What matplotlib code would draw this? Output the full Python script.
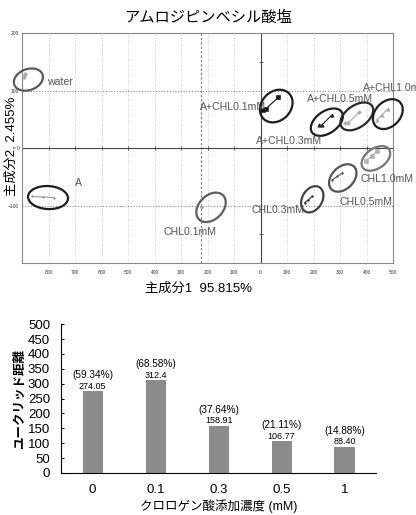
import matplotlib
matplotlib.use("Agg")
import matplotlib.pyplot as plt
from matplotlib.patches import Ellipse
from matplotlib.transforms import Affine2D, ScaledTranslation
import numpy as np

plt.rcParams['font.family'] = ['Liberation Sans', 'Noto Sans CJK JP', 'DejaVu Sans']

# ---------------- PCA data ----------------
title = "アムロジピンベシル酸塩"
pc1_label = "主成分1  95.815%"
pc2_label = "主成分2, 2.455%"

groups = ["water", "A", "A+CHL0.1mM", "A+CHL0.3mM", "A+CHL0.5mM", "A+CHL1.0mM",
          "CHL0.1mM", "CHL0.3mM", "CHL0.5mM", "CHL1.0mM"]
group_x = {
    "water": [-893, -888],
    "A": [-863, -822, -781],
    "A+CHL0.1mM": [10, 19, 67],
    "A+CHL0.3mM": [220, 231, 268],
    "A+CHL0.5mM": [319, 331, 372],
    "A+CHL1.0mM": [439, 459, 479],
    "CHL0.1mM": [-226, -222],
    "CHL0.3mM": [166, 180, 195],
    "CHL0.5mM": [271, 290, 309],
    "CHL1.0mM": [397, 419, 441],
}
group_y = {
    "water": [124, 128],
    "A": [-84, -85, -86],
    "A+CHL0.1mM": [66, 68, 88],
    "A+CHL0.3mM": [40, 40, 57],
    "A+CHL0.5mM": [43, 44, 62],
    "A+CHL1.0mM": [49, 58, 68],
    "CHL0.1mM": [-103, -102],
    "CHL0.3mM": [-95, -90, -84],
    "CHL0.5mM": [-55, -49, -43],
    "CHL1.0mM": [-23, -14, -5],
}
ellipse_center = {
    "water": (-876, 119), "A": (-802, -86), "A+CHL0.1mM": (59, 73),
    "A+CHL0.3mM": (250, 45), "A+CHL0.5mM": (363, 55), "A+CHL1.0mM": (480, 59),
    "CHL0.1mM": (-187, -103), "CHL0.3mM": (195, -89), "CHL0.5mM": (310, -52),
    "CHL1.0mM": (435, -18),
}
label_pos = {
    "water": (-805, 114), "A": (-700, -60), "A+CHL0.1mM": (-227, 72),
    "A+CHL0.3mM": (-19, 12), "A+CHL0.5mM": (174, 86), "A+CHL1.0mM": (385, 105),
    "CHL0.1mM": (-367, -146), "CHL0.3mM": (-34, -107), "CHL0.5mM": (296, -93),
    "CHL1.0mM": (378, -54),
}
# ellipse shape in pixels (w, h, angle) and colours: style
ell_shape = {
    "water": (30, 21, 20), "A": (40, 23, -3), "A+CHL0.1mM": (36, 29, 45),
    "A+CHL0.3mM": (36, 22, 35), "A+CHL0.5mM": (37, 22, 35), "A+CHL1.0mM": (34, 25, 45),
    "CHL0.1mM": (34, 24, 45), "CHL0.3mM": (28, 20, 60), "CHL0.5mM": (32, 22, 45),
    "CHL1.0mM": (32, 20, 35),
}
ell_color = {
    "water": "#5a5a5a", "A": "#1e1e1e", "A+CHL0.1mM": "#1e1e1e", "A+CHL0.3mM": "#1e1e1e",
    "A+CHL0.5mM": "#2a2a2a", "A+CHL1.0mM": "#1e1e1e", "CHL0.1mM": "#5e5e5e",
    "CHL0.3mM": "#444444", "CHL0.5mM": "#555555", "CHL1.0mM": "#777777",
}
pt_color = {
    "water": "#aaaaaa", "A": "#999999", "A+CHL0.1mM": "#111111", "A+CHL0.3mM": "#222222",
    "A+CHL0.5mM": "#aaaaaa", "A+CHL1.0mM": "#aaaaaa", "CHL0.1mM": "#aaaaaa",
    "CHL0.3mM": "#333333", "CHL0.5mM": "#555555", "CHL1.0mM": "#b0b0b0",
}
pt_marker = {
    "water": "o", "A": ".", "A+CHL0.1mM": "s", "A+CHL0.3mM": "^",
    "A+CHL0.5mM": "P", "A+CHL1.0mM": "^", "CHL0.1mM": ".",
    "CHL0.3mM": ".", "CHL0.5mM": ".", "CHL1.0mM": "s",
}

x_ticks = [-800, -700, -600, -500, -400, -300, -200, -100, 0, 100, 200, 300, 400, 500]
y_ticks = [-100, 0, 100, 200]

# ---------------- Bar data ----------------
bar_cats = ["0", "0.1", "0.3", "0.5", "1"]
bar_vals = [274.05, 312.4, 158.91, 106.77, 88.40]
bar_val_txt = ["274.05", "312.4", "158.91", "106.77", "88.40"]
bar_pct = ["(59.34%)", "(68.58%)", "(37.64%)", "(21.11%)", "(14.88%)"]
bar_ylabel = "ユークリッド距離"
bar_xlabel = "クロロゲン酸添加濃度 (mM)"

fig = plt.figure(figsize=(4.16, 5.15), dpi=100)

# ---------------- PCA axes ----------------
ax = fig.add_axes([0.053, 0.489, 0.892, 0.447])
ax.set_xlim(-900, 500)
ax.set_ylim(-200, 200)
for s in ax.spines.values():
    s.set_color("#888888")
    s.set_linewidth(0.8)
for gx in range(-800, 500, 100):
    if gx != 0:
        ax.axvline(gx, color="#bbbbbb", lw=0.6, ls=(0, (1, 2)), zorder=0)
ax.axvline(-225, color="#888888", lw=0.9, ls=(0, (2, 1.5)), zorder=0)
for gy in (100, -100):
    ax.axhline(gy, color="#888888", lw=0.8, ls=(0, (1, 1.5)), zorder=0)
ax.axhline(0, color="#444444", lw=0.8, zorder=1)
ax.axvline(0, color="#444444", lw=0.8, zorder=1)
ax.plot(x_ticks, [0] * len(x_ticks), ls="none", marker="|", ms=3, color="#444444", mew=0.6)
ax.plot([0, 0], [150, -150], ls="none", marker="_", ms=3, color="#444444", mew=0.6)

ax.set_xticks(x_ticks)
ax.set_xticklabels([str(abs(v)) for v in x_ticks])
ax.set_yticks(y_ticks)
ax.tick_params(axis="both", length=0, labelsize=3.5, labelcolor="#333333")
ax.tick_params(axis="x", pad=5)
ax.tick_params(axis="y", pad=2)

for g in groups:
    ax.plot(group_x[g], group_y[g], color=pt_color[g], lw=0.8, marker=pt_marker[g],
            ms=2.5, mew=0.4, zorder=3)
    cx, cy = ellipse_center[g]
    w, h, ang = ell_shape[g]
    tr = Affine2D().scale(1 / 100.0) + fig.dpi_scale_trans + ScaledTranslation(cx, cy, ax.transData)
    e = Ellipse((0, 0), w, h, angle=ang, fill=False, edgecolor=ell_color[g], lw=1.6,
                transform=tr, zorder=4, clip_on=False)
    ax.add_patch(e)
    lx, ly = label_pos[g]
    ax.text(lx, ly, g, fontsize=7.6, color="#555555", ha="left", va="center",
            clip_on=False, zorder=5)

fig.text(0.5, 0.965, title, ha="center", va="center", fontsize=11)
fig.text(0.478, 1 - 289 / 515, pc1_label, ha="center", va="center", fontsize=9.5)
fig.text(0.026, 1 - 146 / 515, pc2_label, rotation=90, ha="center", va="center", fontsize=9.5)

# ---------------- Bar axes ----------------
bx = fig.add_axes([0.147, 0.0816, 0.757, 0.289])
xpos = np.arange(len(bar_cats))
bx.bar(xpos, bar_vals, width=0.32, color="#8c8c8c")
bx.set_xlim(-0.5, len(bar_cats) - 0.5)
bx.set_ylim(0, 500)
bx.set_yticks(np.arange(0, 501, 50))
bx.set_xticks(xpos)
bx.set_xticklabels(bar_cats)
bx.spines["top"].set_visible(False)
bx.spines["right"].set_visible(False)
bx.tick_params(axis="x", length=0, labelsize=9.5, pad=8)
bx.tick_params(axis="y", direction="in", length=2, labelsize=9.5, pad=8)
for i, v in enumerate(bar_vals):
    bx.annotate(bar_val_txt[i], (xpos[i], v), xytext=(0, 0.3), textcoords="offset points",
                ha="center", va="bottom", fontsize=6.5)
    bx.annotate(bar_pct[i], (xpos[i], v), xytext=(0, 8), textcoords="offset points",
                ha="center", va="bottom", fontsize=7.2)
bx.set_ylabel(bar_ylabel, fontsize=9, fontweight="bold", labelpad=1)
bx.set_xlabel(bar_xlabel, fontsize=9, labelpad=2)

fig.savefig("out.png", dpi=100)
